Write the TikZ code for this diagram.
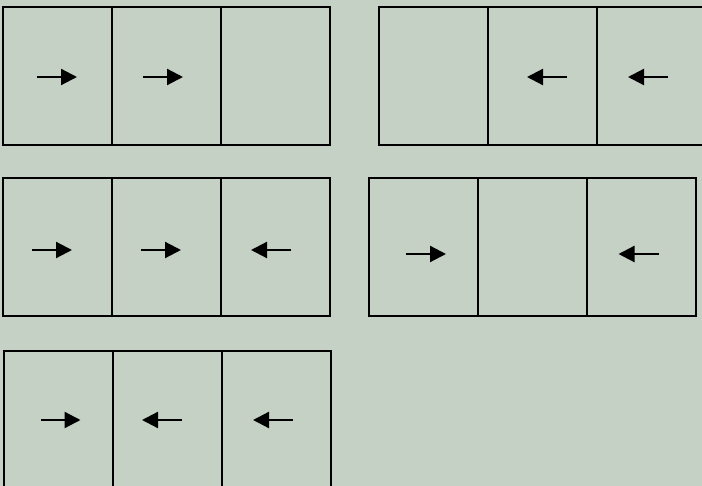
\documentclass[tikz,border=0pt]{standalone}
\usepackage{xcolor}
\usepackage{tikz}
\usetikzlibrary{arrows.meta,positioning}
\definecolor{sage}{HTML}{C5D1C4}

\tikzset{
  cell/.style={draw=black, line width=2.5pt, fill=sage, minimum width=109pt,
               minimum height=138pt, inner sep=0pt, outer sep=0pt},
  flow/.style={line width=2.2pt, -{Triangle[length=16pt,width=16pt]}},
}

\begin{document}
\begin{tikzpicture}[x=1pt,y=1pt]
  \fill[sage] (0,0) rectangle (702,-486);
  \clip (0,0) rectangle (702,-486);

  % row 1, left
  \node[cell, anchor=north west] (a1) at (3,-7) {};
  \node[cell, right=0pt of a1] (a2) {};
  \node[cell, right=0pt of a2] (a3) {};
  \draw[flow] ([shift={(-20.5,-1)}]a1.center) -- ++(40,0);
  \draw[flow] ([shift={(-23.5,-1)}]a2.center) -- ++(40,0);

  % row 1, right
  \node[cell, anchor=north west] (b1) at (379,-7) {};
  \node[cell, right=0pt of b1] (b2) {};
  \node[cell, right=0pt of b2] (b3) {};
  \draw[flow] ([shift={(24.5,-1)}]b2.center) -- ++(-40,0);
  \draw[flow] ([shift={(16.5,-1)}]b3.center) -- ++(-40,0);

  % row 2, left
  \node[cell, anchor=north west] (c1) at (3,-178) {};
  \node[cell, right=0pt of c1] (c2) {};
  \node[cell, right=0pt of c2] (c3) {};
  \draw[flow] ([shift={(-25.5,-3)}]c1.center) -- ++(40,0);
  \draw[flow] ([shift={(-25.5,-3)}]c2.center) -- ++(40,0);
  \draw[flow] ([shift={(15.5,-3)}]c3.center) -- ++(-40,0);

  % row 2, right
  \node[cell, anchor=north west] (d1) at (369,-178) {};
  \node[cell, right=0pt of d1] (d2) {};
  \node[cell, right=0pt of d2] (d3) {};
  \draw[flow] ([shift={(-17.5,-7)}]d1.center) -- ++(40,0);
  \draw[flow] ([shift={(17,-7)}]d3.center) -- ++(-40,0);

  % row 3
  \node[cell, anchor=north west] (e1) at (4,-351) {};
  \node[cell, right=0pt of e1] (e2) {};
  \node[cell, right=0pt of e2] (e3) {};
  \draw[flow] ([shift={(-18,0)}]e1.center) -- ++(40,0);
  \draw[flow] ([shift={(14.5,0)}]e2.center) -- ++(-40,0);
  \draw[flow] ([shift={(16.5,0)}]e3.center) -- ++(-40,0);
\end{tikzpicture}
\end{document}
